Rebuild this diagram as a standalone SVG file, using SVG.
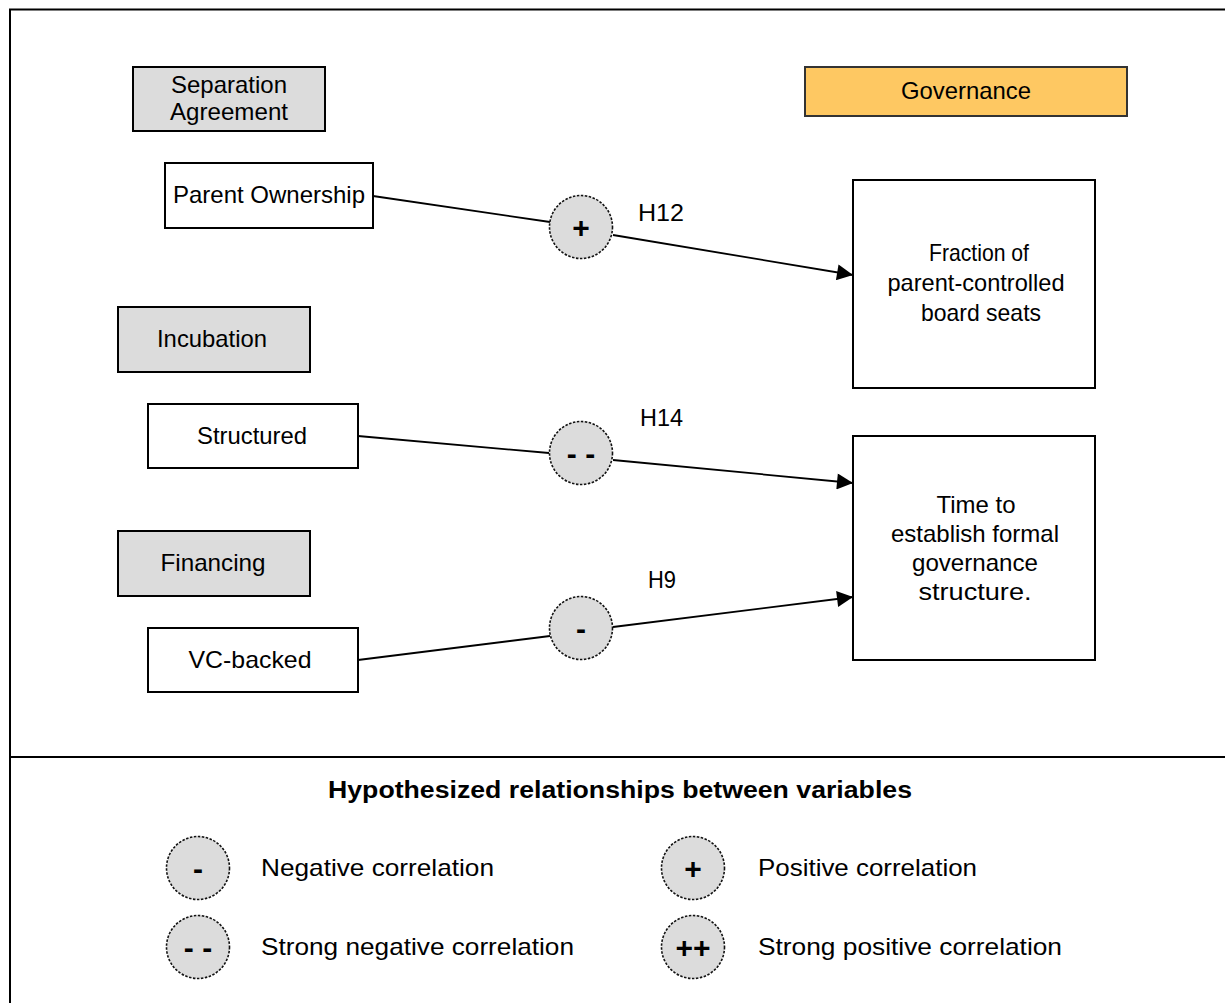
<svg xmlns="http://www.w3.org/2000/svg" width="1225" height="1003" viewBox="0 0 1225 1003">
<defs>
<style>
.t{font-family:"Liberation Sans",Arial,sans-serif;font-size:24px;fill:#000;text-anchor:middle}
.tl{font-family:"Liberation Sans",Arial,sans-serif;font-size:24px;fill:#000;text-anchor:start}
.hdr{fill:#dcdcdc;stroke:#000;stroke-width:2}
.box{fill:#fff;stroke:#000;stroke-width:2}
.gov{fill:#fec862;stroke:#333;stroke-width:2}
.cir{fill:#dcdcdc;stroke:#111;stroke-width:1.6;stroke-dasharray:2.5 1.5}
.sgn{font-family:"Liberation Sans",Arial,sans-serif;font-size:30px;font-weight:bold;fill:#000;text-anchor:middle}
.ln{stroke:#000;stroke-width:1.8;fill:none}
.title{font-family:"Liberation Sans",Arial,sans-serif;font-size:23px;font-weight:bold;fill:#000;text-anchor:middle}
</style>
<marker id="arr" viewBox="0 0 10 10" refX="10" refY="5" markerWidth="18" markerHeight="16" markerUnits="userSpaceOnUse" orient="auto">
<path d="M0,0 L10,5 L0,10 z" fill="#000"/>
</marker>
</defs>
<rect x="0" y="0" width="1225" height="1003" fill="#fff"/>
<rect x="10" y="9.5" width="1300" height="1100" fill="none" stroke="#000" stroke-width="2"/>
<line x1="10" y1="757" x2="1225" y2="757" stroke="#000" stroke-width="2"/>

<g id="connectors">
<line class="ln" x1="373" y1="196" x2="550" y2="222"/>
<line class="ln" x1="613" y1="235" x2="853" y2="275" marker-end="url(#arr)"/>
<line class="ln" x1="358" y1="436" x2="549" y2="453"/>
<line class="ln" x1="613" y1="460" x2="853" y2="483" marker-end="url(#arr)"/>
<line class="ln" x1="358" y1="660" x2="550" y2="636"/>
<line class="ln" x1="613" y1="627" x2="853" y2="597" marker-end="url(#arr)"/>
</g>

<g id="sepAgreement">
<rect class="hdr" x="133" y="67" width="192" height="64"/>
<text class="t" x="229" y="93" textLength="116" lengthAdjust="spacingAndGlyphs">Separation</text>
<text class="t" x="229" y="120" textLength="118" lengthAdjust="spacingAndGlyphs">Agreement</text>
</g>
<g id="parentOwnership">
<rect class="box" x="165" y="163" width="208" height="65"/>
<text class="t" x="269" y="203" textLength="192" lengthAdjust="spacingAndGlyphs">Parent Ownership</text>
</g>
<g id="incubation">
<rect class="hdr" x="118" y="307" width="192" height="65"/>
<text class="t" x="212" y="347" textLength="110" lengthAdjust="spacingAndGlyphs">Incubation</text>
</g>
<g id="structured">
<rect class="box" x="148" y="404" width="210" height="64"/>
<text class="t" x="252" y="444" textLength="110" lengthAdjust="spacingAndGlyphs">Structured</text>
</g>
<g id="financing">
<rect class="hdr" x="118" y="531" width="192" height="65"/>
<text class="t" x="213" y="571" textLength="105" lengthAdjust="spacingAndGlyphs">Financing</text>
</g>
<g id="vcBacked">
<rect class="box" x="148" y="628" width="210" height="64"/>
<text class="t" x="250" y="668" textLength="123" lengthAdjust="spacingAndGlyphs">VC-backed</text>
</g>
<g id="governance">
<rect class="gov" x="805" y="67" width="322" height="49"/>
<text class="t" x="966" y="99" textLength="130" lengthAdjust="spacingAndGlyphs">Governance</text>
</g>
<g id="fraction">
<rect class="box" x="853" y="180" width="242" height="208"/>
<text class="t" x="979" y="261" textLength="100" lengthAdjust="spacingAndGlyphs">Fraction of</text>
<text class="t" x="976" y="291" textLength="177" lengthAdjust="spacingAndGlyphs">parent-controlled</text>
<text class="t" x="981" y="321" textLength="120" lengthAdjust="spacingAndGlyphs">board seats</text>
</g>
<g id="timeTo">
<rect class="box" x="853" y="436" width="242" height="224"/>
<text class="t" x="976" y="513" textLength="79" lengthAdjust="spacingAndGlyphs">Time to</text>
<text class="t" x="975" y="542" textLength="168" lengthAdjust="spacingAndGlyphs">establish formal</text>
<text class="t" x="975" y="571" textLength="126" lengthAdjust="spacingAndGlyphs">governance</text>
<text class="t" x="975" y="600" textLength="113" lengthAdjust="spacingAndGlyphs">structure.</text>
</g>

<g id="h12">
<circle class="cir" cx="581" cy="227" r="31.5"/>
<text class="sgn" x="581" y="238">+</text>
<text class="tl" x="638" y="221" textLength="46" lengthAdjust="spacingAndGlyphs">H12</text>
</g>
<g id="h14">
<circle class="cir" cx="581" cy="453" r="31.5"/>
<text class="sgn" x="581" y="464">- -</text>
<text class="tl" x="640" y="426" textLength="43" lengthAdjust="spacingAndGlyphs">H14</text>
</g>
<g id="h9">
<circle class="cir" cx="581" cy="628" r="31.5"/>
<text class="sgn" x="581" y="639">-</text>
<text class="tl" x="648" y="588" textLength="28" lengthAdjust="spacingAndGlyphs">H9</text>
</g>

<g id="legend">
<text class="title" x="620" y="798" textLength="584" lengthAdjust="spacingAndGlyphs">Hypothesized relationships between variables</text>
<circle class="cir" cx="198" cy="868" r="31.5"/>
<text class="sgn" x="198" y="879">-</text>
<text class="tl" x="261" y="876" textLength="233" lengthAdjust="spacingAndGlyphs">Negative correlation</text>
<circle class="cir" cx="198" cy="947" r="31.5"/>
<text class="sgn" x="198" y="958">- -</text>
<text class="tl" x="261" y="955" textLength="313" lengthAdjust="spacingAndGlyphs">Strong negative correlation</text>
<circle class="cir" cx="693" cy="868" r="31.5"/>
<text class="sgn" x="693" y="879">+</text>
<text class="tl" x="758" y="876" textLength="219" lengthAdjust="spacingAndGlyphs">Positive correlation</text>
<circle class="cir" cx="693" cy="947" r="31.5"/>
<text class="sgn" x="693" y="958">++</text>
<text class="tl" x="758" y="955" textLength="304" lengthAdjust="spacingAndGlyphs">Strong positive correlation</text>
</g>
</svg>
